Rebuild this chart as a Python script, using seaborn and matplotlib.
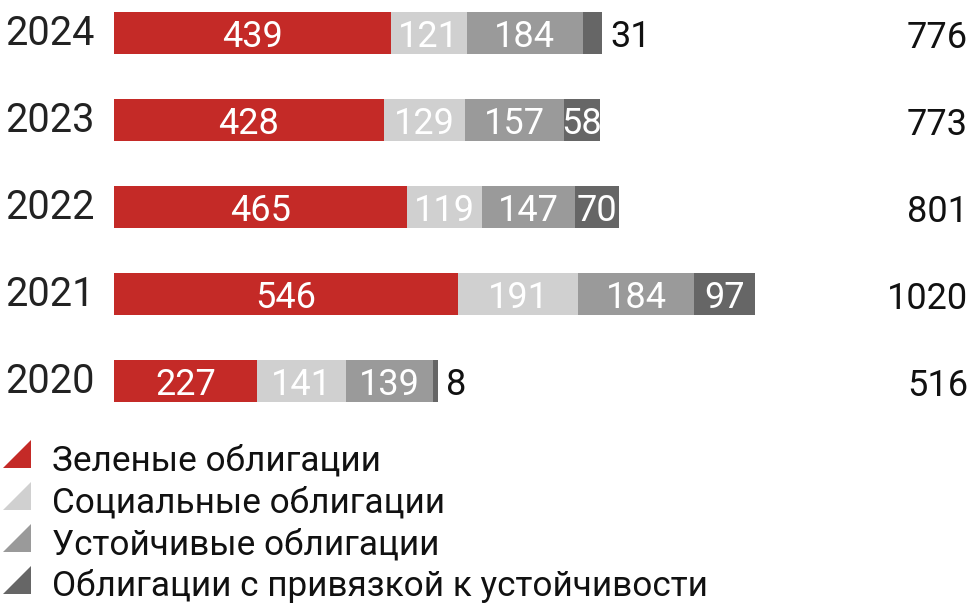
import numpy as np
import pandas as pd
import matplotlib
matplotlib.use("Agg")
import matplotlib.pyplot as plt
import matplotlib.transforms as mtransforms
import seaborn as sns
from matplotlib.patches import Polygon

# ---- data ----
years = ["2024", "2023", "2022", "2021", "2020"]
green = [439, 428, 465, 546, 227]
social = [121, 129, 119, 191, 141]
sustain = [184, 157, 147, 184, 139]
linked = [31, 58, 70, 97, 8]
totals = [776, 773, 801, 1020, 516]
series_names = ["Зеленые облигации", "Социальные облигации",
                "Устойчивые облигации", "Облигации с привязкой к устойчивости"]
colors = ["#C42A27", "#D0D0D0", "#9A9A9A", "#666666"]

sns.set_theme(style="white")
plt.rcParams["font.family"] = ["Roboto", "DejaVu Sans"]

W, H = 975, 612
fig = plt.figure(figsize=(W / 100, H / 100), dpi=100)
ax = fig.add_axes([0, 0, 1, 1])

series = [green, social, sustain, linked]
cum = np.cumsum(np.array(series), axis=0)
starts = np.vstack([np.zeros(len(years)), cum[:-1]])

# stacked bars (largest cumulative first, smaller drawn over)
for j in range(len(series) - 1, -1, -1):
    df = pd.DataFrame({"year": years, "value": cum[j]})
    sns.barplot(data=df, x="value", y="year", order=years, orient="h",
                color=colors[j], saturation=1, width=42 / 87, linewidth=0,
                ax=ax)

px = 0.63  # pixels per unit
x0 = 114
ax.set_xlim(-x0 / px, (W - x0) / px)
ax.set_ylim((H - 33) / 87, -33 / 87)
ax.axis("off")

blend = mtransforms.blended_transform_factory(ax.transAxes, ax.transData)
for i, y in enumerate(years):
    ax.text(5 / W, i + 12 / 87, y, transform=blend, ha="left", va="baseline",
            fontsize=28.5, color="#222222")
    for j in range(len(series)):
        v = series[j][i]
        if v * px < 30:
            ax.text(cum[-1][i] + 8 / px, i + 14 / 87, str(v), ha="left",
                    va="baseline", fontsize=26, color="#111111")
        else:
            ax.text(starts[j][i] + v / 2, i + 14 / 87, str(v), ha="center",
                    va="baseline", fontsize=26, color="white")
    ax.text((W - 7 - x0) / px, i + 15 / 87, str(totals[i]), ha="right",
            va="baseline", fontsize=26, color="#111111")

# legend (triangle markers)
for k, name in enumerate(series_names):
    top = 440 + 42 * k
    bot = top + 28
    tri = Polygon([(3 / W, 1 - bot / H), (31 / W, 1 - bot / H),
                   (31 / W, 1 - top / H)], closed=True,
                  transform=fig.transFigure, facecolor=colors[k], edgecolor="none")
    fig.patches.append(tri)
    fig.text(52 / W, 1 - (top + 30) / H, name, ha="left", va="baseline",
             fontsize=25.3, color="#111111")

fig.savefig("out.png", dpi=100)
